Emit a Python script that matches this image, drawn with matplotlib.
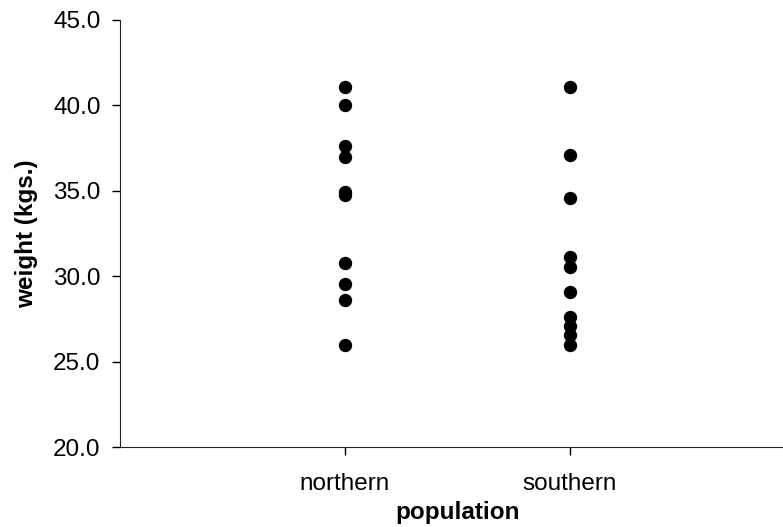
import numpy as np
import matplotlib.pyplot as plt
from matplotlib.ticker import FormatStrFormatter

plt.rcParams['font.family'] = ['Liberation Sans', 'DejaVu Sans']

groups = ['northern', 'southern']
northern = [41.1, 40.0, 37.6, 37.0, 34.95, 34.75, 30.8, 29.55, 28.6, 26.0]
southern = [41.05, 37.1, 34.55, 31.1, 30.55, 29.05, 27.6, 27.1, 26.55, 26.0]

fig = plt.figure(figsize=(7.83, 5.27), dpi=100)
ax = fig.add_axes([120/783, 80/527, 675/783, 427/527])

for i, vals in enumerate([northern, southern]):
    ax.plot(np.full(len(vals), i + 1), vals, 'o', color='black', markersize=8.6, clip_on=False)

ax.set_xlim(0, 3)
ax.set_ylim(20, 45)
ax.set_xticks([1, 2])
ax.set_xticklabels(groups, fontsize=17.5)
ax.set_yticks(np.arange(20, 46, 5))
ax.yaxis.set_major_formatter(FormatStrFormatter('%.1f'))
ax.tick_params(axis='y', labelsize=17.5, length=6, width=1, direction='out', pad=8)
ax.tick_params(axis='x', length=6, width=1, direction='out', pad=13)

ax.spines['top'].set_visible(False)
ax.spines['right'].set_visible(False)
ax.spines['left'].set_color('#222222')
ax.spines['bottom'].set_color('#222222')

ax.set_xlabel('population', fontsize=17.5, fontweight='bold', labelpad=4)
ax.set_ylabel('weight (kgs.)', fontsize=17.5, fontweight='bold', labelpad=11)

fig.savefig('out.png', dpi=100)
